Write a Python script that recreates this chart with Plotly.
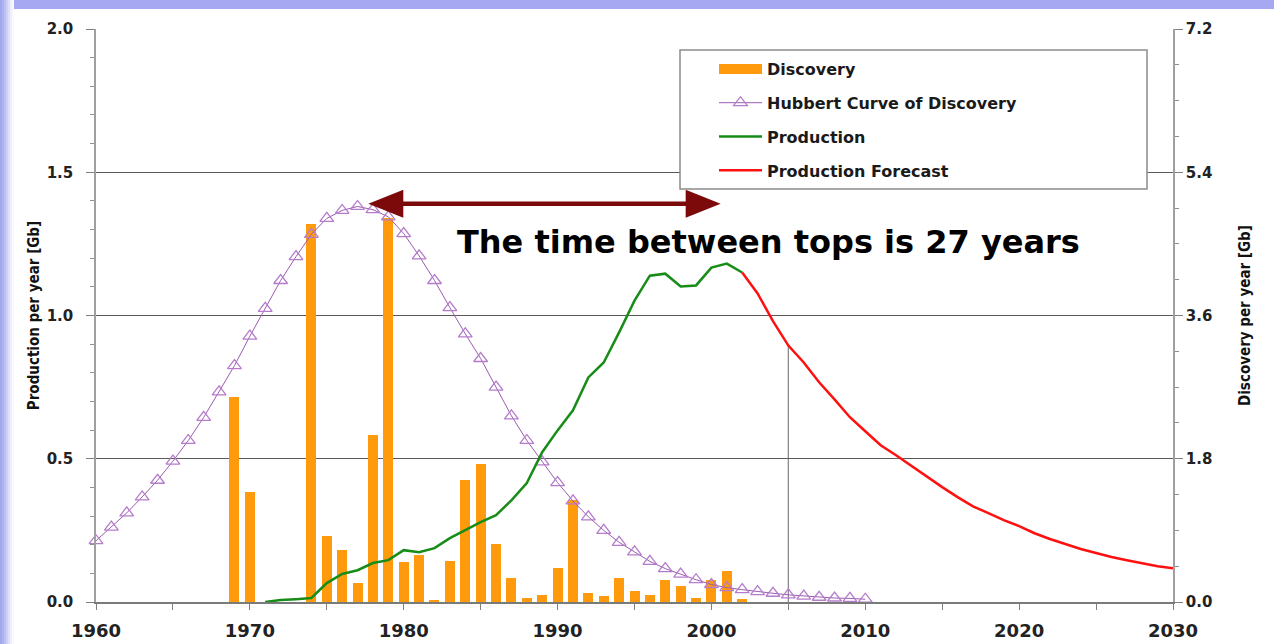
import plotly.graph_objects as go

# ---------------- data ----------------
discovery_years = [1969, 1970, 1974, 1975, 1976, 1977, 1978, 1979, 1980, 1981, 1982, 1983,
                   1984, 1985, 1986, 1987, 1988, 1989, 1990, 1991, 1992, 1993, 1994, 1995,
                   1996, 1997, 1998, 1999, 2000, 2001, 2002]
discovery_gb = [2.57, 1.38, 4.75, 0.83, 0.65, 0.24, 2.10, 4.83, 0.50, 0.59, 0.03, 0.51,
                1.53, 1.73, 0.73, 0.30, 0.05, 0.09, 0.43, 1.28, 0.11, 0.08, 0.30, 0.14,
                0.09, 0.28, 0.20, 0.05, 0.28, 0.39, 0.04]

hubbert_years = list(range(1960, 2011))
hubbert_gb = [0.77, 0.94, 1.12, 1.32, 1.53, 1.77, 2.03, 2.32, 2.64, 2.97,
              3.34, 3.69, 4.04, 4.34, 4.62, 4.82, 4.92, 4.97, 4.93, 4.84,
              4.63, 4.35, 4.04, 3.70, 3.37, 3.06, 2.70, 2.34, 2.03, 1.76,
              1.50, 1.27, 1.07, 0.90, 0.75, 0.63, 0.51, 0.42, 0.35, 0.28,
              0.22, 0.18, 0.155, 0.13, 0.11, 0.09, 0.075, 0.06, 0.05, 0.045,
              0.035]

production_years = list(range(1971, 2003))
production_gb = [0.0, 0.007, 0.010, 0.014, 0.066, 0.098, 0.111, 0.136, 0.146, 0.181,
                 0.174, 0.188, 0.223, 0.251, 0.279, 0.303, 0.355, 0.415, 0.523, 0.599,
                 0.669, 0.784, 0.836, 0.941, 1.052, 1.139, 1.146, 1.101, 1.105, 1.167,
                 1.181, 1.150]

forecast_years = list(range(2002, 2031))
forecast_gb = [1.150, 1.077, 0.980, 0.895, 0.836, 0.767, 0.707, 0.645, 0.596, 0.547,
               0.512, 0.474, 0.436, 0.401, 0.366, 0.334, 0.310, 0.286, 0.265, 0.240,
               0.220, 0.202, 0.185, 0.171, 0.157, 0.146, 0.136, 0.125, 0.118]

x_ticks = [1960, 1970, 1980, 1990, 2000, 2010, 2020, 2030]
production_ticks = [0.0, 0.5, 1.0, 1.5, 2.0]
discovery_ticks = [0.0, 1.8, 3.6, 5.4, 7.2]

annotation_text = "The time between tops is 27 years"
marker_year = 2005            # vertical reference line
arrow_from, arrow_to, arrow_level = 1977.7, 2000.6, 1.39
text_x, text_y = 2003.7, 1.258

# ---------------- layout geometry ----------------
W, H = 1274, 644
L, R, T, B = 96, 101, 29, 42
PW, PH = W - L - R, H - T - B


def px(x):
    return (x - L) / PW


def py(y):
    return (H - B - y) / PH


TICK_FONT = dict(family="DejaVu Sans", size=15, color="#222222", weight="bold")
TITLE_FONT = dict(family="Liberation Sans Narrow, DejaVu Sans Condensed, Arial Narrow, sans-serif",
                  size=15, color="#111111", weight="bold")
ORANGE = "#FF9A0D"

fig = go.Figure()

fig.add_trace(go.Bar(
    x=discovery_years, y=discovery_gb, name="Discovery", yaxis="y",
    width=0.65, marker=dict(color=ORANGE, line=dict(width=0)),
    legendgroup="a", showlegend=False))
# legend entry for the bars (wide orange swatch as in the original)
fig.add_trace(go.Scatter(
    x=[None], y=[None], name="Discovery", yaxis="y", mode="lines",
    line=dict(color=ORANGE, width=11), legendgroup="a", showlegend=True,
    hoverinfo="skip"))

fig.add_trace(go.Scatter(
    x=hubbert_years, y=hubbert_gb, name="Hubbert Curve of Discovery", yaxis="y",
    mode="lines+markers", cliponaxis=False,
    line=dict(color="#9a5cb0", width=1),
    marker=dict(symbol="triangle-up-open", size=12, color="#b57ccc",
                line=dict(width=1.3, color="#b57ccc")),
    legendgroup="b"))

fig.add_trace(go.Scatter(
    x=production_years, y=production_gb, name="Production", yaxis="y2",
    mode="lines", line=dict(color="#178C17", width=2.5), legendgroup="c"))

fig.add_trace(go.Scatter(
    x=forecast_years, y=forecast_gb, name="Production Forecast", yaxis="y2",
    mode="lines", line=dict(color="#FF1010", width=2.5), legendgroup="d"))

shapes = []
# lavender page border (top and left)
shapes.append(dict(type="rect", xref="paper", yref="paper", x0=px(0), x1=px(W),
                   y0=py(9), y1=py(0), fillcolor="#a6a9f2", line=dict(width=0), layer="below"))
grad = ["#a3a8ef", "#adb2f1", "#bcc0f4", "#cdd0f7", "#dee0fa", "#eeeffc", "#f8f8fe"]
for i, c in enumerate(grad):
    shapes.append(dict(type="rect", xref="paper", yref="paper", x0=px(2 * i), x1=px(2 * i + 2),
                       y0=py(H), y1=py(0), fillcolor=c, line=dict(width=0), layer="below"))

# vertical line at 2005 down from the forecast curve
fy = forecast_gb[forecast_years.index(marker_year)]
shapes.append(dict(type="line", xref="x", yref="y2", x0=marker_year, x1=marker_year,
                   y0=0, y1=fy, line=dict(color="#8a8a8a", width=1.3), layer="below"))

# double-headed arrow
ARROW_COL = "#7d0a0a"
shapes.append(dict(type="line", xref="x", yref="y2", x0=arrow_from + 1.5, x1=arrow_to - 1.5,
                   y0=arrow_level, y1=arrow_level, line=dict(color=ARROW_COL, width=4.5),
                   layer="above"))
shapes.append(dict(type="path", xref="x", yref="y2", xsizemode="pixel", ysizemode="pixel",
                   xanchor=arrow_from, yanchor=arrow_level, path="M0,0 L35,14 L35,-14 Z",
                   fillcolor=ARROW_COL, line=dict(width=0), layer="above"))
shapes.append(dict(type="path", xref="x", yref="y2", xsizemode="pixel", ysizemode="pixel",
                   xanchor=arrow_to, yanchor=arrow_level, path="M0,0 L-35,14 L-35,-14 Z",
                   fillcolor=ARROW_COL, line=dict(width=0), layer="above"))

# legend box
shapes.append(dict(type="rect", xref="paper", yref="paper", x0=px(680), x1=px(1147),
                   y0=py(189), y1=py(50), fillcolor="white",
                   line=dict(color="#8c8c8c", width=1.5), layer="above"))

fig.update_layout(
    width=W, height=H, autosize=False,
    margin=dict(l=L, r=R, t=T, b=B, pad=0, autoexpand=False),
    paper_bgcolor="white", plot_bgcolor="white",
    bargap=0, barmode="overlay",
    showlegend=True,
    legend=dict(x=px(714), y=py(52), xanchor="left", yanchor="top",
                bgcolor="rgba(0,0,0,0)", borderwidth=0,
                font=dict(family="DejaVu Sans", size=16, color="#1a1a1a", weight="bold"),
                itemwidth=43, tracegroupgap=10, traceorder="grouped"),
    xaxis=dict(range=[1960, 2030], tickvals=x_ticks, ticks="outside", ticklen=6,
               tickcolor="#808080", tickwidth=1.2, automargin=False,
               minor=dict(dtick=5, tick0=1960, ticks="outside", ticklen=6, tickcolor="#808080"),
               showgrid=False, zeroline=False, showline=True, linecolor="#7a7a7a", linewidth=1.5,
               tickfont=dict(family="DejaVu Sans", size=18, color="#222222", weight="bold"),
               ticklabelstandoff=6, anchor="y"),
    yaxis=dict(range=[0, 7.2], tickvals=discovery_ticks, tickformat=".1f", side="right",
               ticks="outside", ticklen=8, tickcolor="#808080", tickwidth=1.2, automargin=False,
               minor=dict(dtick=0.45, tick0=0, ticks="outside", ticklen=4, tickcolor="#909090"),
               showgrid=True, gridcolor="#5a5a5a", gridwidth=1.3, zeroline=False,
               showline=True, linecolor="#a0a0a0", linewidth=1.5,
               tickfont=TICK_FONT, ticklabelstandoff=0,
               title=dict(text="Discovery per year [Gb]", font=TITLE_FONT, standoff=28)),
    yaxis2=dict(range=[0, 2.0], tickvals=production_ticks, tickformat=".1f", side="left",
                overlaying="y", ticks="outside", ticklen=8, tickcolor="#808080", tickwidth=1.2,
                automargin=False,
                minor=dict(dtick=0.1, tick0=0, ticks="outside", ticklen=4, tickcolor="#909090"),
                showgrid=False, zeroline=False, showline=True, linecolor="#a0a0a0", linewidth=1.5,
                tickfont=TICK_FONT, ticklabelstandoff=10,
                title=dict(text="Production per year [Gb]", font=TITLE_FONT, standoff=3)),
    shapes=shapes,
    annotations=[dict(x=text_x, y=text_y, xref="x", yref="y2", text=annotation_text,
                      showarrow=False, xanchor="center", yanchor="middle",
                      font=dict(family="DejaVu Sans", size=32, color="#000000", weight="bold"))],
)

fig.write_html("out.html", config={"displayModeBar": False},
               post_script="document.body.style.margin='0';")
